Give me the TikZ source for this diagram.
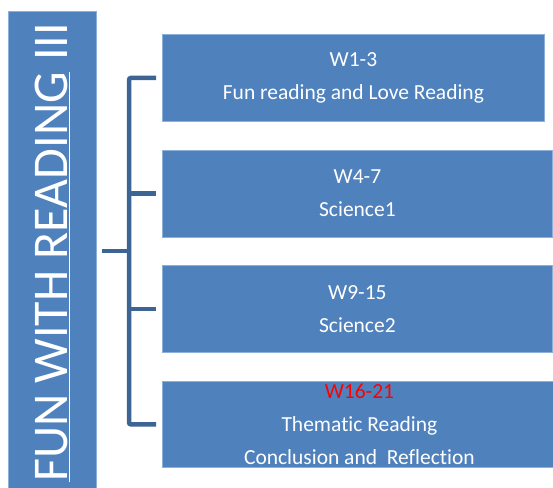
\documentclass[tikz,border=0pt]{standalone}
\usepackage{fontspec}
\setmainfont{Carlito}[Ligatures=NoCommon]
\definecolor{boxblue}{HTML}{4F81BD}
\definecolor{boxedge}{HTML}{8DB0DA}
\definecolor{linkblue}{HTML}{3C6595}
\definecolor{weekred}{HTML}{FF0000}

\begin{document}
\begin{tikzpicture}[x=1pt, y=-1pt,
    titlebar/.style ={rectangle, draw=boxedge, fill=boxblue, line width=0.8pt,
                      minimum width=88pt, minimum height=477pt, inner sep=0pt},
    weekbox/.style ={rectangle, draw=boxedge, fill=boxblue, line width=0.8pt,
                     minimum height=87pt, inner sep=0pt, text=white, align=center,
                     font=\fontsize{21.5}{33}\selectfont},
    bracket/.style ={line width=4.5pt, draw=linkblue, rounded corners=2pt}]
   \useasboundingbox (0,0) rectangle (553,487);
   % left title bar
   \node[titlebar] (bar) [anchor=north west] at (8,11) {};
   \node (title) [anchor=base west, rotate=90, inner sep=0pt, text=white,
         font=\fontsize{50}{60}\selectfont] at (67,482)
         {\underline{FUN WITH READING} III};
   % week boxes
   \node[weekbox, minimum width=382pt] (w1) [anchor=north west] at (162,34)
         {W1-3\\Fun reading and Love Reading};
   \node[weekbox, minimum width=390pt] (w2) [anchor=north west] at (162,149.5)
         {W4-7\\Science1};
   \node[weekbox, minimum width=390pt] (w3) [anchor=north west] at (162,265)
         {W9-15\\Science2};
   \node[weekbox, minimum width=394pt, minimum height=86pt] (w4) [anchor=north west] at (162,381)
         {\textcolor{weekred}{W16-21}\\Thematic Reading\\Conclusion and\ \ Reflection};
   % bracket
   \coordinate (hub) at (129,251);
   \draw[bracket, shorten <=5pt] (bar.east |- hub) -- (hub);
   \draw[bracket, shorten <=6pt, shorten >=6pt] (w1.west) -| (hub) |- (w4.west);
   \draw[bracket, shorten >=6pt] (hub |- w2.west) -- (w2.west);
   \draw[bracket, shorten >=6pt] (hub |- w3.west) -- (w3.west);
 \end{tikzpicture}
\end{document}
